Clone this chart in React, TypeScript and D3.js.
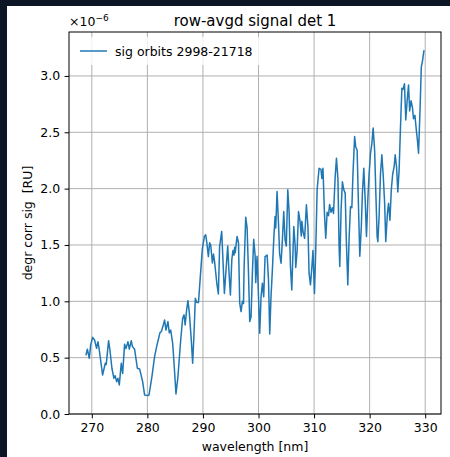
import React, { useEffect, useRef } from 'react';
import * as d3 from 'd3';

// wavelength [nm] and row-averaged signal (units of 1e-6)
const wavelength = [
  268.94, 269.2, 269.55, 269.8, 270.15, 270.5, 270.86, 271.1, 271.35, 271.94,
  272.43, 272.6, 273.02, 273.26, 273.62, 273.98, 274.2, 274.47, 274.7, 274.95,
  275.3, 275.55, 275.9, 276.15, 276.5, 276.75, 277.1, 277.3, 277.7, 278.2,
  278.6, 279.15, 279.5, 280.1, 280.3, 280.82, 281.3, 281.67, 282.03, 282.27,
  282.5, 282.87, 283.1, 283.35, 283.7, 283.95, 284.2, 284.55, 284.8, 285.15,
  285.5, 286.0, 286.35, 286.6, 286.8, 287.07, 287.3, 287.55, 287.9, 288.15,
  288.4, 288.63, 288.9, 289.2, 289.4, 289.9, 290.26, 290.5, 290.7, 290.98,
  291.2, 291.4, 291.7, 291.9, 292.1, 292.5, 292.78, 293.0, 293.38, 293.6,
  293.86, 294.2, 294.46, 294.7, 294.94, 295.2, 295.4, 295.6, 295.7, 295.8,
  296.14, 296.4, 296.62, 296.86, 297.1, 297.3, 297.4, 297.7, 297.95, 298.2,
  298.42, 298.66, 298.9, 299.14, 299.4, 299.5, 299.74, 300.0, 300.22, 300.46,
  300.7, 300.94, 301.18, 301.55, 301.8, 302.02, 302.25, 302.5, 302.74, 302.98,
  303.1, 303.34, 303.6, 303.8, 304.06, 304.3, 304.54, 304.78, 305.0, 305.27,
  305.5, 305.75, 305.99, 306.35, 306.6, 306.7, 306.95, 307.2, 307.45, 307.7,
  307.8, 308.05, 308.3, 308.62, 308.9, 309.1, 309.35, 309.6, 309.8, 310.07,
  310.3, 310.55, 310.9, 311.25, 311.4, 311.6, 311.87, 312.1, 312.35, 312.6,
  312.8, 313.05, 313.3, 313.5, 313.8, 314.03, 314.3, 314.5, 314.63, 314.86,
  315.1, 315.35, 315.6, 315.8, 316.07, 316.3, 316.55, 316.8, 317.0, 317.3,
  317.5, 317.75, 318.0, 318.23, 318.5, 318.7, 318.95, 319.2, 319.43, 319.7,
  319.9, 320.15, 320.4, 320.63, 320.9, 321.1, 321.35, 321.48, 321.7, 321.95,
  322.2, 322.45, 322.7, 322.9, 323.2, 323.4, 323.65, 323.9, 324.15, 324.4,
  324.6, 324.85, 325.07, 325.3, 325.55, 325.8, 326.0, 326.27, 326.5, 326.75,
  327.0, 327.2, 327.45, 327.7, 327.9, 328.15, 328.4, 328.6, 328.8, 329.05,
  329.3, 329.5, 329.76, 329.8,
];

const signal = [
  0.52, 0.575, 0.495, 0.613, 0.68, 0.657, 0.583, 0.642, 0.568, 0.346,
  0.45, 0.44, 0.651, 0.568, 0.406, 0.317, 0.34, 0.287, 0.317, 0.258,
  0.45, 0.36, 0.62, 0.58, 0.642, 0.575, 0.651, 0.6, 0.575, 0.406,
  0.4, 0.287, 0.169, 0.163, 0.17, 0.331, 0.509, 0.598, 0.672, 0.722,
  0.73, 0.79, 0.835, 0.745, 0.82, 0.72, 0.745, 0.628, 0.45, 0.178,
  0.33, 0.657, 0.85, 0.88, 0.79, 0.924, 1.006, 0.9, 0.66, 0.45,
  0.72, 1.027, 0.99, 0.99, 1.13, 1.47, 1.575, 1.59, 1.52, 1.397,
  1.52, 1.5, 1.34, 1.42, 1.35, 1.16, 1.066, 1.486, 1.62, 1.37,
  1.07, 1.31, 1.49, 1.25, 1.057, 1.37, 1.45, 1.41, 1.48, 1.43,
  1.575, 1.52, 0.983, 0.909, 1.0, 0.98, 1.28, 1.747, 1.65, 1.25,
  0.82, 0.86, 1.25, 1.55, 1.4, 1.166, 1.4, 1.04, 0.716, 1.04,
  1.16, 1.04, 1.397, 1.41, 1.19, 0.71, 1.04, 1.28, 1.545, 1.752,
  1.65, 1.974, 1.69, 1.42, 1.338, 1.545, 1.797, 1.545, 1.49, 1.99,
  1.8, 1.31, 1.1, 1.664, 1.49, 1.3, 1.45, 1.797, 1.72, 1.58,
  1.71, 1.61, 1.56, 1.856, 1.66, 1.25, 1.146, 1.3, 1.45, 1.07,
  1.45, 1.99, 2.18, 2.17, 2.09, 2.18, 1.78, 1.56, 1.79, 1.76,
  1.86, 1.79, 1.83, 1.78, 2.107, 2.27, 2.08, 1.49, 1.31, 1.81,
  2.06, 1.99, 1.96, 1.55, 1.146, 1.55, 1.84, 1.83, 2.13, 2.463,
  2.37, 2.34, 1.83, 1.4, 1.66, 1.96, 2.18, 1.9, 1.575, 1.93,
  2.13, 2.31, 2.4, 2.537, 2.34, 1.99, 1.575, 1.53, 1.75, 2.13,
  2.3, 2.11, 1.87, 1.53, 1.78, 1.87, 1.72, 1.99, 2.13, 2.19,
  2.3, 2.19, 1.97, 2.16, 2.54, 2.89, 2.88, 2.93, 2.61, 2.78,
  2.92, 2.69, 2.78, 2.72, 2.62, 2.65, 2.52, 2.43, 2.315, 2.67,
  3.08, 3.13, 3.22, 3.23,
];

const xTicks = [270, 280, 290, 300, 310, 320, 330];
const yTicks = [0.0, 0.5, 1.0, 1.5, 2.0, 2.5, 3.0];

const App = () => {
  const ref = useRef<SVGSVGElement>(null);

  useEffect(() => {
    document.body.style.margin = '0';
    const svg = d3.select(ref.current);
    svg.selectAll('*').remove();

    const W = 450;
    const H = 457;
    const margin = { top: 32, right: 9, bottom: 43, left: 69 };
    const width = W - margin.left - margin.right;
    const height = H - margin.top - margin.bottom;
    const font = 'DejaVu Sans, sans-serif';

    // dark surround + white figure
    svg.append('rect').attr('width', W).attr('height', H).attr('fill', '#0c1524');
    svg.append('rect').attr('x', 7).attr('y', 6).attr('width', W - 7).attr('height', H - 6).attr('fill', '#fff');

    const g = svg.append('g').attr('transform', `translate(${margin.left},${margin.top})`);

    const [x0, x1] = d3.extent(wavelength) as [number, number];
    const pad = (x1 - x0) * 0.05;
    const x = d3.scaleLinear().domain([x0 - pad, x1 + pad]).range([0, width]);
    const y = d3.scaleLinear().domain([0, 3.39]).range([height, 0]);

    // grid
    g.append('g')
      .selectAll('line')
      .data(xTicks)
      .enter().append('line')
      .attr('x1', d => x(d)).attr('x2', d => x(d))
      .attr('y1', 0).attr('y2', height)
      .attr('stroke', '#b0b0b0').attr('stroke-width', 1);
    g.append('g')
      .selectAll('line')
      .data(yTicks)
      .enter().append('line')
      .attr('x1', 0).attr('x2', width)
      .attr('y1', d => y(d)).attr('y2', d => y(d))
      .attr('stroke', '#b0b0b0').attr('stroke-width', 1);

    // signal line
    const pts = wavelength.map((w, i) => [w, signal[i]] as [number, number]);
    const line = d3.line<[number, number]>().x(d => x(d[0])).y(d => y(d[1]));
    g.append('path')
      .datum(pts)
      .attr('d', line)
      .attr('fill', 'none')
      .attr('stroke', '#1f77b4')
      .attr('stroke-width', 1.5)
      .attr('stroke-linejoin', 'round');

    // axes
    const xAxis = g.append('g')
      .attr('transform', `translate(0,${height})`)
      .call(d3.axisBottom(x).tickValues(xTicks).tickSize(4.4).tickPadding(4.4).tickFormat(d3.format('d')));
    const yAxis = g.append('g')
      .call(d3.axisLeft(y).tickValues(yTicks).tickSize(4.4).tickPadding(4.4).tickFormat(d3.format('.1f')));
    [xAxis, yAxis].forEach(a => {
      a.select('.domain').remove();
      a.selectAll('line').attr('stroke', '#000').attr('stroke-width', 1);
      a.selectAll('text').attr('font-family', font).attr('font-size', 12.5).attr('fill', '#000');
    });

    // spines
    g.append('rect')
      .attr('width', width).attr('height', height)
      .attr('fill', 'none').attr('stroke', '#000').attr('stroke-width', 1);

    // legend
    const lg = g.append('g');
    lg.append('rect')
      .attr('x', 5).attr('y', 5).attr('width', 188).attr('height', 28)
      .attr('rx', 3)
      .attr('fill', '#fff').attr('fill-opacity', 0.8);
    lg.append('line')
      .attr('x1', 11).attr('x2', 38).attr('y1', 19).attr('y2', 19)
      .attr('stroke', '#1f77b4').attr('stroke-width', 1.5);
    lg.append('text')
      .attr('x', 46).attr('y', 23.5)
      .attr('font-family', font).attr('font-size', 12.5)
      .text('sig orbits 2998-21718');

    // title, offset, labels
    svg.append('text')
      .attr('x', margin.left + width / 2).attr('y', 26)
      .attr('text-anchor', 'middle')
      .attr('font-family', font).attr('font-size', 15)
      .text('row-avgd signal det 1');

    const off = svg.append('text')
      .attr('x', margin.left).attr('y', 26)
      .attr('font-family', font).attr('font-size', 12.5);
    off.append('tspan').text('×10');
    off.append('tspan').attr('dy', -5).attr('font-size', 9).text('−6');

    svg.append('text')
      .attr('x', margin.left + width / 2).attr('y', 451)
      .attr('text-anchor', 'middle')
      .attr('font-family', font).attr('font-size', 12.5)
      .text('wavelength [nm]');

    svg.append('text')
      .attr('transform', `translate(32,${margin.top + height / 2}) rotate(-90)`)
      .attr('text-anchor', 'middle')
      .attr('font-family', font).attr('font-size', 12.5)
      .attr('xml:space', 'preserve')
      .style('white-space', 'pre')
      .text('degr corr sig  [RU]');
  }, []);

  return <svg ref={ref} width={450} height={457} style={{ display: 'block' }} />;
};

export default App;
